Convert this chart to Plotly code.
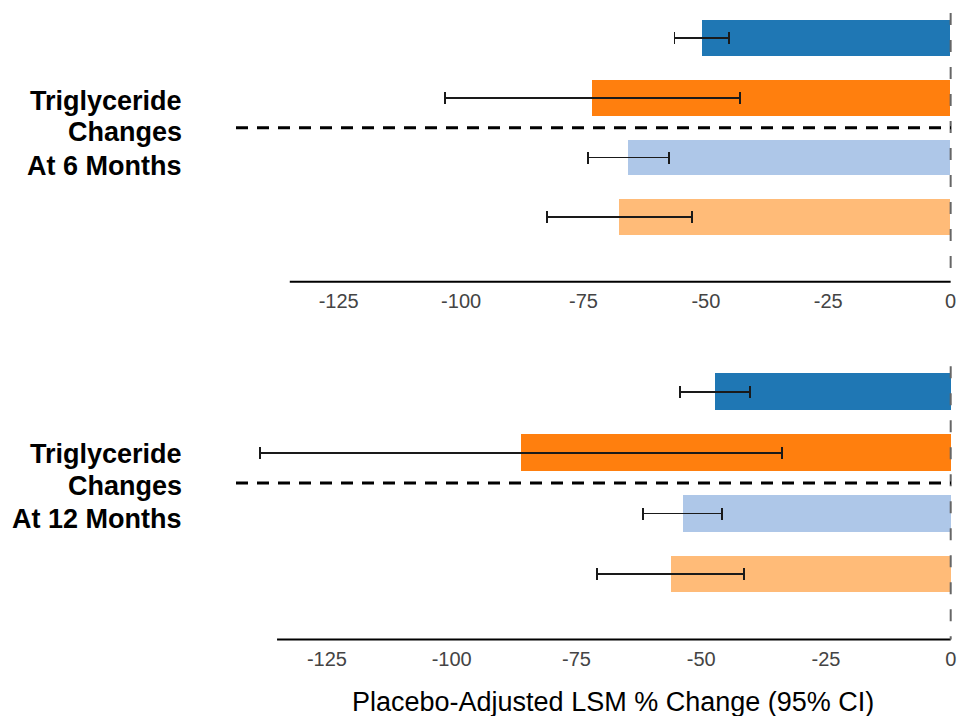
import plotly.graph_objects as go

# ---------------- data ----------------
positions = [0, 1, 2, 3]
bar_colors = ["#1f77b4", "#ff7f0e", "#aec7e8", "#ffbb78"]

m6_values = [-50.8, -73.2, -65.8, -67.7]
m6_ci_low = [-56.4, -103.3, -74.0, -82.5]
m6_ci_high = [-45.2, -43.1, -57.5, -52.9]

m12_values = [-47.2, -86.0, -53.6, -56.1]
m12_ci_low = [-54.2, -138.4, -61.6, -70.9]
m12_ci_high = [-40.2, -33.8, -45.8, -41.5]

label_lines_6 = ["Triglyceride", "Changes", "At 6 Months"]
label_lines_12 = ["Triglyceride", "Changes", "At 12 Months"]

tick_vals = [-125, -100, -75, -50, -25, 0]
tick_text = ["-125", "-100", "-75", "-50", "-25", "0"]
x_label = "Placebo-Adjusted LSM % Change (95% CI)"
axis_span = [-135, 0]

# ---------------- figure ----------------
W, H = 961, 716
FONT = "Liberation Sans, Arial, sans-serif"


def px_x(p):
    return p / W


def px_y(p):
    return 1 - p / H


fig = go.Figure()

panels = [
    (m6_values, m6_ci_low, m6_ci_high, "x", "y"),
    (m12_values, m12_ci_low, m12_ci_high, "x2", "y2"),
]
for vals, lo, hi, xa, ya in panels:
    fig.add_trace(go.Bar(
        x=vals, y=positions, orientation="h", width=0.6,
        marker=dict(color=bar_colors, line=dict(width=0)),
        error_x=dict(type="data", symmetric=False,
                     array=[h - v for h, v in zip(hi, vals)],
                     arrayminus=[v - l for v, l in zip(vals, lo)],
                     color="#1a1a1a", thickness=1.8, width=6),
        xaxis=xa, yaxis=ya, showlegend=False, hoverinfo="skip",
    ))

xcommon = dict(range=[-140, 0.5], showgrid=False, zeroline=False, showline=False,
               tickvals=tick_vals, ticktext=tick_text, ticks="outside", ticklen=1,
               tickcolor="rgba(0,0,0,0)",
               tickfont=dict(family=FONT, size=20, color="#444444"))
ycommon = dict(visible=False, showgrid=False, zeroline=False)

fig.update_layout(
    autosize=True, margin=dict(l=0, r=0, t=0, b=0, autoexpand=False),
    plot_bgcolor="white", paper_bgcolor="white",
    bargap=0,
    xaxis=dict(domain=[265.3 / W, 953.1 / W], anchor="y", automargin=False, **xcommon),
    yaxis=dict(domain=[px_y(281.7), px_y(13.1)], range=[4.08, -0.42], anchor="x", **ycommon),
    xaxis2=dict(domain=[252.1 / W, 953.2 / W], anchor="y2", automargin=False, **xcommon),
    yaxis2=dict(domain=[px_y(639.5), px_y(366.2)], range=[4.07, -0.42], anchor="x2", **ycommon),
)

sep_y = (positions[1] + positions[2]) / 2
shapes = []
for xa, ya, axis_px in [("x", "y", 281.7), ("x2", "y2", 639.5)]:
    # bottom axis line
    shapes.append(dict(type="line", xref=xa, yref="paper",
                       x0=axis_span[0], x1=axis_span[1], y0=px_y(axis_px), y1=px_y(axis_px),
                       line=dict(color="black", width=2)))
    # zero reference line
    shapes.append(dict(type="line", xref=xa, yref=ya + " domain",
                       x0=0, x1=0, y0=1, y1=0,
                       line=dict(color="#666666", width=2, dash="12px,15px")))
    # dashed separator
    shapes.append(dict(type="line", xref="paper", yref=ya,
                       x0=px_x(236), x1=px_x(951), y0=sep_y, y1=sep_y,
                       line=dict(color="black", width=3, dash="12px,9px")))
fig.update_layout(shapes=shapes)

annotations = []
for lines, centers in [(label_lines_6, [100.5, 132.5, 165.5]),
                       (label_lines_12, [454, 486, 519])]:
    for txt, cy in zip(lines, centers):
        annotations.append(dict(text="<b>" + txt + "</b>", xref="paper", yref="paper",
                                x=px_x(184), y=px_y(cy), xanchor="right", yanchor="middle",
                                showarrow=False,
                                font=dict(family=FONT, size=27, color="black")))
annotations.append(dict(text=x_label, xref="paper", yref="paper",
                        x=px_x(612.5), y=px_y(702), xanchor="center", yanchor="middle",
                        showarrow=False, font=dict(family=FONT, size=27, color="black")))
fig.update_layout(annotations=annotations)

fig.write_html("out.html", default_width="100%", default_height="100%")
